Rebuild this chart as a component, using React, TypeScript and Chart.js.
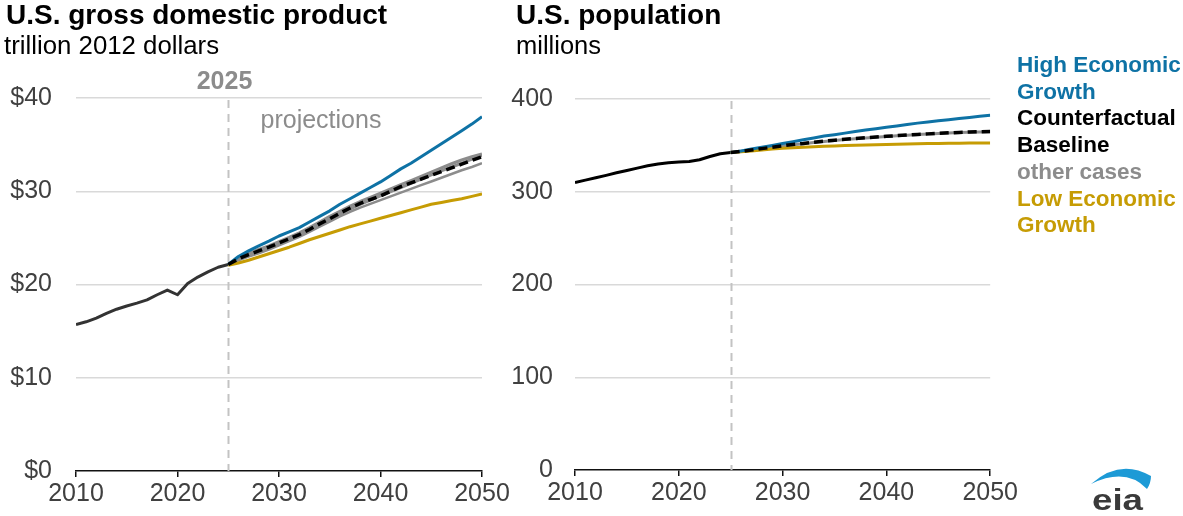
import React, { useEffect, useRef } from "react";
import { Chart, registerables } from "chart.js";

Chart.register(...registerables);

// ---------- data ----------
const histYears = [2010, 2011, 2012, 2013, 2014, 2015, 2016, 2017, 2018, 2019, 2020, 2021, 2022, 2023, 2024, 2025];
const projYears = [2025, 2026, 2027, 2028, 2029, 2030, 2031, 2032, 2033, 2034, 2035, 2036, 2037, 2038, 2039, 2040, 2041, 2042, 2043, 2044, 2045, 2046, 2047, 2048, 2049, 2050];

const gdpHistory = [15.7, 16.0, 16.4, 16.9, 17.35, 17.7, 18.0, 18.35, 18.9, 19.4, 18.9, 20.1, 20.8, 21.35, 21.85, 22.15];
const gdpHigh = [22.15, 23.0, 23.6, 24.15, 24.65, 25.2, 25.65, 26.1, 26.7, 27.3, 27.9, 28.6, 29.2, 29.8, 30.4, 31.0, 31.7, 32.4, 33.0, 33.7, 34.4, 35.1, 35.8, 36.5, 37.2, 38.0];
const gdpBaseline = [22.15, 22.75, 23.2, 23.6, 24.0, 24.45, 24.9, 25.35, 25.9, 26.5, 27.05, 27.65, 28.2, 28.7, 29.1, 29.5, 30.0, 30.5, 30.9, 31.3, 31.7, 32.1, 32.5, 32.9, 33.3, 33.7];
const gdpLow = [22.05, 22.3, 22.6, 22.95, 23.3, 23.65, 24.0, 24.4, 24.8, 25.15, 25.5, 25.85, 26.2, 26.5, 26.8, 27.1, 27.4, 27.7, 28.0, 28.3, 28.6, 28.8, 29.0, 29.2, 29.45, 29.7];
const gdpOther1 = [22.15, 22.85, 23.35, 23.75, 24.15, 24.6, 25.05, 25.55, 26.1, 26.7, 27.3, 27.85, 28.4, 28.9, 29.35, 29.8, 30.25, 30.7, 31.15, 31.6, 32.05, 32.5, 32.95, 33.35, 33.7, 34.0];
const gdpOther2 = [22.15, 22.6, 23.0, 23.35, 23.75, 24.2, 24.65, 25.1, 25.65, 26.2, 26.75, 27.3, 27.8, 28.25, 28.65, 29.05, 29.45, 29.85, 30.25, 30.65, 31.05, 31.45, 31.85, 32.25, 32.6, 33.0];
const gdpOther3 = [22.15, 22.75, 23.2, 23.55, 23.95, 24.4, 24.85, 25.3, 25.85, 26.45, 27.0, 27.55, 28.1, 28.6, 29.05, 29.5, 29.95, 30.4, 30.85, 31.3, 31.75, 32.2, 32.6, 33.0, 33.45, 33.85];

const popHistory = [310, 312.5, 315, 317.7, 320.4, 323, 325.5, 328, 330, 331.2, 332, 332.7, 334.5, 338, 341, 342.2];
const popHigh = [342.2, 344, 346, 348, 350, 352, 354, 356, 358, 360, 361.5, 363.2, 365, 366.5, 368, 369.5, 371, 372.5, 374, 375.3, 376.5, 377.7, 378.9, 380.1, 381.3, 382.5];
const popBaseline = [342.2, 343.5, 345, 346.5, 348, 349.5, 351, 352, 353.3, 354.5, 355.5, 356.5, 357.4, 358.2, 359, 359.8, 360.5, 361.2, 361.8, 362.4, 363, 363.5, 364, 364.4, 364.7, 365];
const popLow = [342.2, 343, 344, 345, 346, 346.8, 347.4, 348, 348.5, 349, 349.4, 349.8, 350.1, 350.4, 350.7, 351, 351.2, 351.5, 351.7, 351.9, 352.1, 352.3, 352.4, 352.5, 352.6, 352.6];
const popOther = [342.2, 343.5, 345, 346.4, 347.8, 349.3, 350.7, 351.8, 353.1, 354.3, 355.3, 356.3, 357.2, 358, 358.8, 359.6, 360.3, 361, 361.6, 362.2, 362.8, 363.3, 363.8, 364.2, 364.5, 364.8];

const xTicks = [2010, 2020, 2030, 2040, 2050];
const gdpTicks = [0, 10, 20, 30, 40];
const popTicks = [0, 100, 200, 300, 400];
const projectionYear = 2025;

const legendItems = [
  { text: "High Economic", color: "#0e72a5" },
  { text: "Growth", color: "#0e72a5" },
  { text: "Counterfactual", color: "#000000" },
  { text: "Baseline", color: "#000000" },
  { text: "other cases", color: "#8c8c8c" },
  { text: "Low Economic", color: "#c69c04" },
  { text: "Growth", color: "#c69c04" },
];

// ---------- styles ----------
const FONT = '"Liberation Sans", Arial, Helvetica, sans-serif';
const BLUE = "#0e72a5";
const GOLD = "#c69c04";
const GRAY = "#8c8c8c";
const TICK = "#404040";

function pts(xs: number[], ys: number[]) {
  return xs.map((x, i) => ({ x, y: ys[i] }));
}

function lineDs(data: any, color: string, width: number, order: number, dash?: number[]) {
  return {
    data,
    borderColor: color,
    borderWidth: width,
    pointRadius: 0,
    tension: 0,
    fill: false,
    order,
    borderDash: dash || [],
    borderCapStyle: "butt",
    borderJoinStyle: "round",
  };
}

function projPlugin(withLabels: boolean) {
  return {
    id: "proj" + (withLabels ? "L" : ""),
    beforeDatasetsDraw(chart: any) {
      const { ctx, chartArea, scales } = chart;
      const x = Math.round(scales.x.getPixelForValue(projectionYear)) + 0.5;
      ctx.save();
      ctx.strokeStyle = "#c3c3c3";
      ctx.lineWidth = 2;
      ctx.setLineDash([8, 6]);
      ctx.beginPath();
      ctx.moveTo(x, chartArea.top + 2);
      ctx.lineTo(x, chartArea.bottom);
      ctx.stroke();
      ctx.setLineDash([]);
      if (withLabels) {
        ctx.fillStyle = GRAY;
        ctx.textBaseline = "alphabetic";
        ctx.font = `bold 25px ${FONT}`;
        ctx.textAlign = "center";
        ctx.fillText(String(projectionYear), x - 4, chartArea.top - 9);
        ctx.font = `25px ${FONT}`;
        ctx.textAlign = "left";
        ctx.fillText("projections", x + 32, chartArea.top + 30);
      }
      ctx.restore();
    },
  };
}

function makeOptions(opts: {
  yMax: number;
  yTickVals: number[];
  yFmt: (v: number) => string;
  yWidth: number;
  yPad: number;
  padRight: number;
  padTop: number;
  xHeight: number;
}) {
  return {
    animation: false,
    responsive: false,
    devicePixelRatio: 1,
    layout: { padding: { left: 0, right: opts.padRight, top: opts.padTop, bottom: 0 } },
    plugins: { legend: { display: false }, tooltip: { enabled: false } },
    scales: {
      x: {
        type: "linear",
        min: 2010,
        max: 2050,
        afterFit: (s: any) => {
          s.height = opts.xHeight;
        },
        afterBuildTicks: (s: any) => {
          s.ticks = xTicks.map((v) => ({ value: v }));
        },
        ticks: {
          color: TICK,
          font: { family: FONT, size: 25 },
          padding: 2,
          maxRotation: 0,
          callback: (v: any) => String(v),
        },
        grid: {
          drawOnChartArea: false,
          drawTicks: true,
          tickLength: 6,
          color: "#111111",
          lineWidth: 1.5,
        },
        border: { display: true, color: "#111111", width: 1.5 },
      },
      y: {
        type: "linear",
        min: 0,
        max: opts.yMax,
        afterFit: (s: any) => {
          s.width = opts.yWidth;
        },
        afterBuildTicks: (s: any) => {
          s.ticks = opts.yTickVals.map((v) => ({ value: v }));
        },
        ticks: {
          color: TICK,
          font: { family: FONT, size: 25 },
          padding: opts.yPad,
          callback: (v: any) => opts.yFmt(Number(v)),
        },
        grid: {
          drawTicks: false,
          color: (c: any) => (c.tick && c.tick.value === 0 ? "rgba(0,0,0,0)" : "#d9d9d9"),
          lineWidth: 1.5,
        },
        border: { display: false },
      },
    },
  };
}

function GdpChart() {
  const ref = useRef<HTMLCanvasElement>(null);
  useEffect(() => {
    const chart = new Chart(ref.current as HTMLCanvasElement, {
      type: "line",
      data: {
        datasets: [
          lineDs(pts(projYears, gdpBaseline), "#000000", 3.5, 0, [9, 5]),
          lineDs(pts(projYears, gdpHigh), BLUE, 3, 1),
          lineDs(pts(projYears, gdpLow), GOLD, 3, 2),
          lineDs(pts(projYears, gdpOther1), GRAY, 3, 3),
          lineDs(pts(projYears, gdpOther3), GRAY, 3, 4),
          lineDs(pts(projYears, gdpOther2), GRAY, 2.5, 5),
          lineDs(pts(histYears, gdpHistory), "#333333", 3, 6),
        ] as any,
      },
      options: makeOptions({
        yMax: 40,
        yTickVals: gdpTicks,
        yFmt: (v) => "$" + v,
        yWidth: 76,
        yPad: 24,
        padRight: 38,
        padTop: 98,
        xHeight: 45,
      }) as any,
      plugins: [projPlugin(true)],
    });
    return () => chart.destroy();
  }, []);
  return (
    <canvas
      ref={ref}
      width={520}
      height={516}
      style={{ position: "absolute", left: 0, top: 0, width: 520, height: 516 }}
    />
  );
}

function PopChart() {
  const ref = useRef<HTMLCanvasElement>(null);
  useEffect(() => {
    const chart = new Chart(ref.current as HTMLCanvasElement, {
      type: "line",
      data: {
        datasets: [
          lineDs(pts(projYears, popBaseline), "#000000", 3.5, 0, [9, 5]),
          lineDs(pts(projYears, popHigh), BLUE, 3, 1),
          lineDs(pts(projYears, popLow), GOLD, 3, 2),
          lineDs(pts(projYears, popOther), GRAY, 3, 3),
          lineDs(pts(histYears, popHistory), "#000000", 3, 4),
        ] as any,
      },
      options: makeOptions({
        yMax: 400,
        yTickVals: popTicks,
        yFmt: (v) => String(v),
        yWidth: 75,
        yPad: 22,
        padRight: 26,
        padTop: 99,
        xHeight: 46,
      }) as any,
      plugins: [projPlugin(false)],
    });
    return () => chart.destroy();
  }, []);
  return (
    <canvas
      ref={ref}
      width={520}
      height={516}
      style={{ position: "absolute", left: 500, top: 0, width: 520, height: 516 }}
    />
  );
}

export default function App() {
  const text = (s: React.CSSProperties): React.CSSProperties => ({
    position: "absolute",
    whiteSpace: "nowrap",
    fontFamily: FONT,
    margin: 0,
    ...s,
  });
  return (
    <div
      style={{
        position: "absolute",
        left: 0,
        top: 0,
        width: 1183,
        height: 516,
        background: "#ffffff",
        overflow: "hidden",
      }}
    >
      <GdpChart />
      <PopChart />
      <div style={text({ left: 6, top: 1, fontSize: 28, lineHeight: "28px", fontWeight: 700, color: "#000" })}>
        U.S. gross domestic product
      </div>
      <div style={text({ left: 4, top: 32, fontSize: 25.8, lineHeight: "26px", color: "#000" })}>
        trillion 2012 dollars
      </div>
      <div style={text({ left: 516, top: 1, fontSize: 28, lineHeight: "28px", fontWeight: 700, color: "#000" })}>
        U.S. population
      </div>
      <div style={text({ left: 516, top: 32, fontSize: 25.5, lineHeight: "26px", color: "#000" })}>
        millions
      </div>
      <div style={text({ left: 1017, top: 52, fontSize: 22.5, lineHeight: "26.7px", fontWeight: 700 })}>
        {legendItems.map((it, i) => (
          <div key={i} style={{ color: it.color }}>
            {it.text}
          </div>
        ))}
      </div>
      <svg
        width={1183}
        height={516}
        style={{ position: "absolute", left: 0, top: 0, pointerEvents: "none" }}
      >
        <path
          d="M1091,484 Q1120,458 1151,476 Q1151,483 1147,489 Q1126,467 1091,484 Z"
          fill="#1d9ad6"
        />
        <text
          x={1092}
          y={510}
          fontFamily={FONT}
          fontWeight={700}
          fontSize={29}
          fill="#3a3a3a"
          textLength={51}
          lengthAdjust="spacingAndGlyphs"
        >
          eia
        </text>
      </svg>
    </div>
  );
}
